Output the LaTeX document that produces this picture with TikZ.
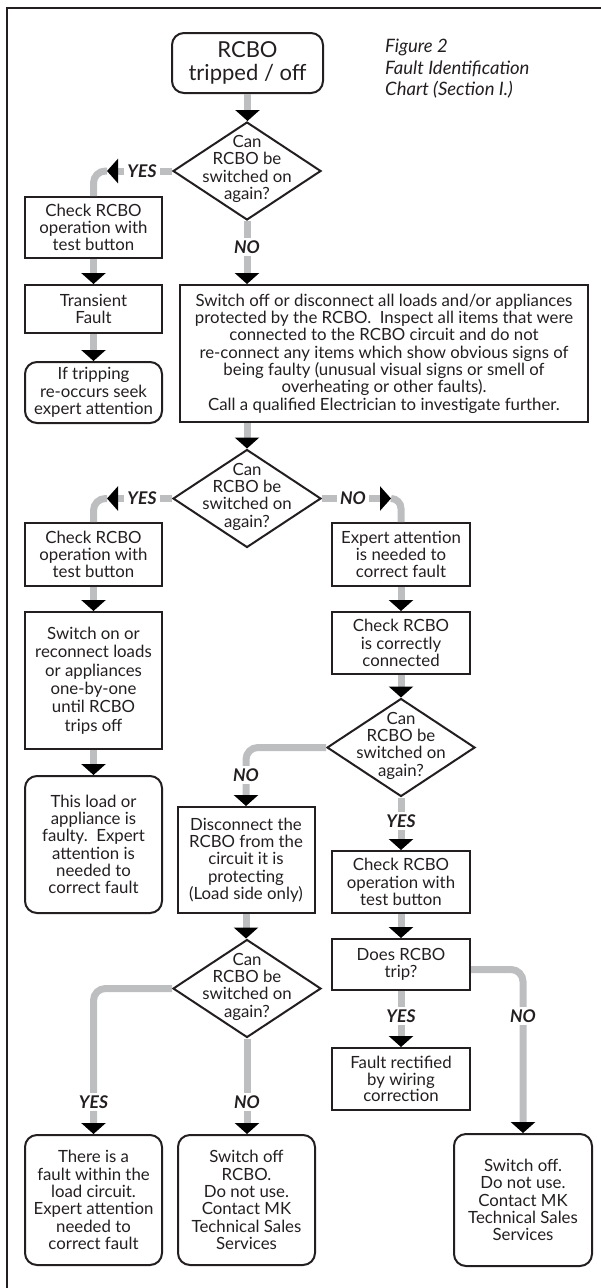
\documentclass[tikz,border=0pt]{standalone}
\usepackage{fontspec}
\setmainfont{Lato}
\usetikzlibrary{shapes.geometric,arrows.meta}
\definecolor{linegray}{RGB}{188,190,192}
\definecolor{ink}{RGB}{35,31,32}

\begin{document}
\begin{tikzpicture}[x=1pt,y=-1pt,text=ink,
   font=\fontsize{16.8}{17.3}\selectfont,
   box/.style={draw=ink,line width=2pt,rectangle,align=center,inner sep=0pt,
               minimum width=137pt},
   rbox/.style={box,rounded corners=12pt},
   dec/.style={draw=ink,line width=2pt,diamond,inner sep=0pt,
               minimum width=148pt,minimum height=98pt},
   qtext/.style={align=center,inner sep=0pt},
   conn/.style={draw=linegray,line width=7pt,rounded corners=12pt},
   headed/.style={-{Triangle[width=24pt,length=11pt,color=black]}},
   yn/.style={fill=white,inner sep=3pt,font=\fontsize{17.5}{18}\selectfont\bfseries\itshape}]

   \useasboundingbox (0,0) rectangle (600,1288);
   \draw[line width=2.5pt,draw=ink] (7,1295) -- (7,8) -- (605,8);

   \node[rbox,minimum width=151pt,minimum height=60pt,
         font=\fontsize{22}{23.5}\selectfont] (start) at (247.5,63) {RCBO\\tripped / off};
   \node[anchor=north west,align=left,inner sep=0pt,
         font=\fontsize{18.5}{21.5}\selectfont\itshape] (cap) at (385,39)
         {Figure 2\\Fault Identification\\Chart (Section I.)};

   % the four questions
   \foreach \n/\x/\y in {q1/247/171,q2/247/498.5,q3/401/747.5,q4/247/988.5}{
   \node[dec] (\n) at (\x,\y) {};
   \node[qtext] (\n-t) at ([yshift=2pt]\n) {Can\\RCBO be\\switched on\\again?};
   }

   % left column
   \node[box,minimum height=61pt] (chk1) at (93.5,227.5) {Check RCBO\\operation with\\test button};
   \node[box,minimum height=48pt] (trans) at (93.5,309) {Transient\\Fault};
   \node[rbox,minimum height=61pt] (retrip) at (93.5,392.5) {If tripping\\re-occurs seek\\expert attention};
   \node[box,minimum height=63pt] (chk2) at (93.5,554.5) {Check RCBO\\operation with\\test button};
   \node[box,minimum height=137pt,font=\fontsize{16.8}{18.3}\selectfont] (reconn) at (93.5,680.5)
         {Switch on or\\reconnect loads\\or appliances\\one-by-one\\until RCBO\\trips off};
   \node[rbox,minimum height=137pt] (faulty) at (93.5,844.5)
         {This load or\\appliance is\\faulty.\ \ Expert\\attention is\\needed to\\correct fault};
   \node[rbox,minimum height=130pt] (loadckt) at (93.5,1200)
         {There is a\\fault within the\\load circuit.\\Expert attention\\needed to\\correct fault};

   % middle and right
   \node[box,minimum width=408pt,minimum height=137pt] (isolate) at (384,353.5)
         {Switch off or disconnect all loads and/or appliances\\
          protected by the RCBO.\ \ Inspect all items that were\\
          connected to the RCBO circuit and do not\\
          re-connect any items which show obvious signs of\\
          being faulty (unusual visual signs or smell of\\
          overheating or other faults).\\
          Call a qualified Electrician to investigate further.};
   \node[box,minimum height=106pt] (disc) at (246,860)
         {Disconnect the\\RCBO from the\\circuit it is\\protecting\\(Load side only)};
   \node[rbox,minimum height=130pt] (mk1) at (246.5,1200)
         {Switch off\\RCBO.\\Do not use.\\Contact MK\\Technical Sales\\Services};
   \node[box,minimum width=138pt,minimum height=63pt] (expert) at (401,554.5)
         {Expert attention\\is needed to\\correct fault};
   \node[box,minimum width=138pt,minimum height=62pt] (wiring) at (401,643)
         {Check RCBO\\is correctly\\connected};
   \node[box,minimum width=138pt,minimum height=62pt] (chk3) at (401,882)
         {Check RCBO\\operation with\\test button};
   \node[box,minimum width=138pt,minimum height=51pt] (trip) at (401,964.5) {Does RCBO\\trip?};
   \node[box,minimum width=138pt,minimum height=62pt,font=\fontsize{16.8}{16.5}\selectfont] (fixed) at (401,1079)
         {Fault rectified\\by wiring\\correction};
   \node[rbox,minimum width=138pt,minimum height=132pt] (mk2) at (523,1200)
         {Switch off.\\Do not use.\\Contact MK\\Technical Sales\\Services};

   % straight drops
   \foreach \a/\b in {start/q1,chk1/trans,trans/retrip,chk2/reconn,reconn/faulty,
                      expert/wiring,wiring/q3,disc/q4,chk3/trip}
   \draw[conn,headed] (\a.south) -- (\a.south |- \b.north);
   \draw[conn,headed] (isolate.south -| q2) -- (q2.north);

   % q1
   \coordinate (yes1tip) at (107,171);
   \draw[conn,headed] (q1.west) -- (yes1tip);
   \draw[conn] (yes1tip) -| (chk1.north);
   \node[yn] (yes1) at (142,171) {YES};
   \draw[conn,headed] (q1.south) -- (q1.south |- isolate.north);
   \node[yn] (no1) at (247,247) {NO};

   % q2
   \coordinate (yes2tip) at (107,498.5);
   \draw[conn,headed] (q2.west) -- (yes2tip);
   \draw[conn] (yes2tip) -| (chk2.north);
   \node[yn] (yes2) at (142,498.5) {YES};
   \coordinate (no2tip) at (391,498.5);
   \draw[conn,headed] (q2.east) -- (no2tip);
   \draw[conn,rounded corners=10pt] (no2tip) -| (expert.north);
   \node[yn] (no2) at (353,498.5) {NO};

   % q3
   \draw[conn,headed] (q3.west) -| (disc.north);
   \node[yn] (no3) at (246,775) {NO};
   \draw[conn,headed] (q3.south) -- (chk3.north);
   \node[yn] (yes3) at (401,821) {YES};

   % q4
   \draw[conn,headed] (q4.west) -| (loadckt.north);
   \node[yn] (yes4) at (93.5,1102) {YES};
   \draw[conn,headed] (q4.south) -- (q4.south |- mk1.north);
   \node[yn] (no4) at (247,1102) {NO};

   % does it trip
   \draw[conn,headed] (trip.south) -- (fixed.north);
   \node[yn] (yes5) at (401,1016) {YES};
   \draw[conn,headed] ([yshift=-5pt]trip.east) -| (mk2.north);
   \node[yn] (no5) at (523,1016) {NO};
\end{tikzpicture}
\end{document}
